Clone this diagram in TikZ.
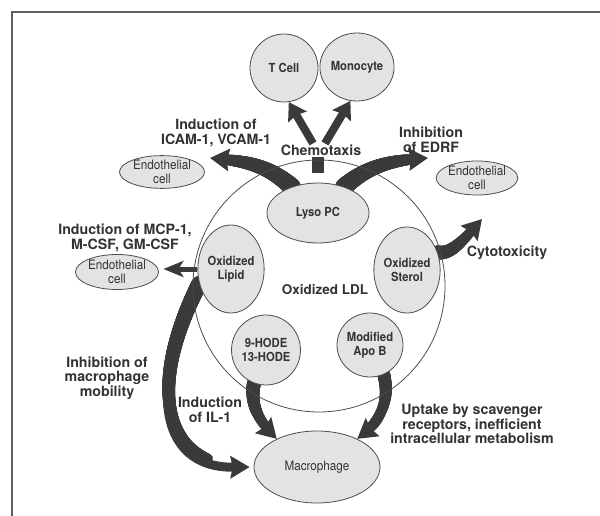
\documentclass[tikz,border=0pt]{standalone}
\usepackage{fontspec}
\setmainfont{TeX Gyre Heros}
\newfontfamily\condfont[FakeStretch=0.9]{TeX Gyre Heros}
\usetikzlibrary{shapes.geometric,arrows.meta,decorations.markings,backgrounds,calc}

\definecolor{ink}{HTML}{333333}
\definecolor{arrowc}{HTML}{3A3A3A}
\definecolor{cellfill}{HTML}{E3E3E3}
\definecolor{cellline}{HTML}{4D4D4D}
\definecolor{framec}{HTML}{5E5E5E}

\tikzset{
  cell/.style={ellipse, draw=cellline, line width=0.8pt, fill=cellfill, inner sep=0pt,
    text=ink, align=center, font=\condfont\bfseries\fontsize{12.5}{14.5}\selectfont},
  cellreg/.style={cell, font=\condfont\fontsize{13}{13.5}\selectfont},
  bigcirc/.style={circle, draw=cellline, line width=0.8pt, inner sep=0pt, minimum size=252pt},
  lab/.style={text=ink, align=center, inner sep=1pt, font=\bfseries\fontsize{14.2}{14.6}\selectfont},
  fat/.style={draw=arrowc, line width=#1, -{Stealth[width=22pt,length=19pt,inset=2pt]}},
  fat/.default=8pt,
  slim/.style={draw=arrowc, line width=#1, -{Stealth[width=21pt,length=17pt,inset=2pt]}},
  slim/.default=8pt,
  thinarrow/.style={draw=arrowc, line width=5pt, -{Stealth[width=16pt,length=20pt,inset=5pt]}},
  taper/.style n args={2}{postaction={decorate, decoration={markings,
    mark=between positions 0 and 0.8 step 0.6pt with {
      \pgfmathsetmacro\tr{#1-(#1-#2)*\pgfkeysvalueof{/pgf/decoration/mark info/distance from start}/\pgfdecoratedpathlength}
      \fill[arrowc] (0,0) circle (\tr pt);}}}}
}

\begin{document}
\begin{tikzpicture}[x=1pt,y=-1pt]
\useasboundingbox (0,0) rectangle (600,516);
\draw[framec, line width=2pt] (12,516) -- (12,12) -- (600,12);

% big circle
\node[bigcirc] (ldl) at (319,286) {};
\node[lab, font=\bfseries\fontsize{13.5}{14}\selectfont] (ldltext) at (325,290) {Oxidized LDL};

% cells
\node[cell, minimum width=68pt, minimum height=68pt] (tcell) at (284,68) {T Cell};
\node[cell, minimum width=68pt, minimum height=68pt] (mono) at (357,67) {Monocyte};
\node[cellreg, minimum width=85pt, minimum height=30pt] (endoA) at (162,172) {Endothelial\\cell};
\node[cellreg, minimum width=80pt, minimum height=34pt] (endoB) at (477,178) {Endothelial\\cell};
\node[cellreg, minimum width=83pt, minimum height=35pt] (endoC) at (117,272) {Endothelial\\cell};
\node[cell, minimum width=102pt, minimum height=60pt] (lyso) at (318,213) {\raisebox{3pt}{Lyso PC}};
\node[cell, minimum width=56pt, minimum height=88pt] (lipid) at (231,269) {Oxidized\\Lipid};
\node[cell, minimum width=50pt, minimum height=86pt] (sterol) at (407,270) {Oxidized\\Sterol};
\node[cell, minimum width=66pt, minimum height=70pt] (hode) at (266,350) {9-HODE\\13-HODE};
\node[cell, minimum width=66pt, minimum height=64pt] (apob) at (370,345) {Modified\\Apo B};
\node[cellreg, minimum width=126pt, minimum height=72pt] (macro) at (317,467) {Macrophage};

% labels
\node[lab] (chemo) at (321,150) {Chemotaxis};
\node[lab] (icam) at (216,133) {Induction of\\ICAM-1, VCAM-1};
\node[lab] (edrf) at (431,140) {Inhibition\\of EDRF};
\node[lab] (mcp) at (125,238) {Induction of MCP-1,\\M-CSF, GM-CSF};
\node[lab] (cyto) at (507,253) {Cytotoxicity};
\node[lab] (mob) at (107,378) {Inhibition of\\macrophage\\mobility};
\node[lab] (il1) at (210,410) {Induction\\of IL-1};
\node[lab] (uptake) at (472,424) {Uptake by scavenger\\receptors, inefficient\\intracellular metabolism};

\coordinate (icamtip) at (210,158);
\coordinate (edrftip) at (428,158);
\coordinate (cytotip) at (482,219);

\begin{scope}[on background layer]
  \draw[slim=8pt] ($(chemo.north)+(-8,0)$) -- (tcell.-82);
  \draw[slim=8pt] ($(chemo.north)+(4,0)$) -- (mono.-101);
  \draw[arrowc, line width=12pt, shorten <=10pt] (lyso.north) -- (lyso.north |- chemo.south);
  \draw[fat=9pt, taper={9}{4.5}] (lyso.135) .. controls (264,162) and (240,161) .. (icamtip);
  \draw[fat=9pt, taper={9}{4.5}] (lyso.45) .. controls (372,162) and (400,160) .. (edrftip);
  \draw[fat=8pt, taper={7}{4}] (sterol.30) .. controls (452,255) and (465,238) .. (cytotip);
  \draw[thinarrow, shorten >=4.5pt] (lipid.west) -- (lipid.west -| endoC.east);
  \draw[fat=9pt, taper={8}{4.5}, shorten >=4pt] (lipid.205) .. controls (150,380) and (155,468) .. (macro.west);
  \draw[fat=8pt, taper={7}{4}] (hode.-110) .. controls (250,405) and (258,420) .. (macro.145);
  \draw[fat=8pt, taper={6.5}{4}] (apob.-65) .. controls (390,400) and (382,420) .. (macro.35);
\end{scope}
\end{tikzpicture}
\end{document}
